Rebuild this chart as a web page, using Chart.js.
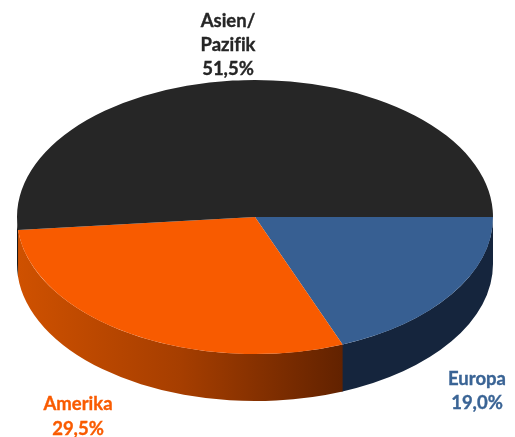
<!DOCTYPE html>
<html>
<head>
<meta charset="utf-8">
<style>
  html, body { margin: 0; padding: 0; background: #fff; }
  canvas { display: block; }
</style>
<script src="https://cdn.jsdelivr.net/npm/chart.js@4"></script>
</head>
<body>
<canvas id="myChart" width="515" height="437"></canvas>
<script>
const regions = ["Europa", "Amerika", "Asien/\nPazifik"];
const shares = [19.0, 29.5, 51.5];

const topColors = ["#375f92", "#f85b00", "#262626"];
const textColors = ["#3a6495", "#f95b00", "#262626"];

// side wall colours, left to right
const wallColors = [
  ["#15253d", "#15253d"],
  ["#cf5100", "#a63e00", "#622200"],
  ["#1a1a1a", "#1a1a1a"],
];

const RADIUS = 238;
const TILT = 137 / 238; // vertical squash of the disc
const DEPTH = 47;

// label anchor: centre x and first baseline
const labelSpots = [
  { x: 477, y: 385, lead: 24 },
  { x: 78, y: 410, lead: 24.5 },
  { x: 228, y: 27, lead: 24 },
];

const pie3d = {
  id: "pie3d",
  beforeDatasetsDraw(chart) {
    const ctx = chart.ctx;
    const arcs = chart.getDatasetMeta(0).data;

    // only the front half of the rim can be seen
    arcs.forEach((arc, i) => {
      const from = Math.max(arc.startAngle, 0);
      // small overlap so no light seam shows between two walls
      const to = Math.min(arc.endAngle + 0.005, Math.PI);
      if (to <= from) return;
      const rx = arc.outerRadius;
      const ry = rx * TILT;
      const x0 = arc.x + rx * Math.cos(to);
      const x1 = arc.x + rx * Math.cos(from);
      const grad = ctx.createLinearGradient(x0, 0, x1, 0);
      wallColors[i].forEach((c, k, all) => grad.addColorStop(k / (all.length - 1), c));
      ctx.beginPath();
      ctx.ellipse(arc.x, arc.y, rx, ry, 0, from, to);
      ctx.ellipse(arc.x, arc.y + DEPTH, rx, ry, 0, to, from, true);
      ctx.closePath();
      ctx.fillStyle = grad;
      ctx.fill();
    });

    const cy = arcs[0].y;
    ctx.save();
    ctx.translate(0, cy);
    ctx.scale(1, TILT);
    ctx.translate(0, -cy);
  },
  afterDatasetsDraw(chart) {
    const ctx = chart.ctx;
    ctx.restore();

    ctx.save();
    ctx.font = "bold 18.5px Lato";
    ctx.letterSpacing = "0.01px"; // keeps "fi" from turning into a ligature
    ctx.textAlign = "center";
    ctx.textBaseline = "alphabetic";
    ctx.lineWidth = 0.35;
    regions.forEach((name, i) => {
      const spot = labelSpots[i];
      const lines = name.split("\n");
      lines.push(shares[i].toFixed(1).replace(".", ",") + "%");
      ctx.fillStyle = textColors[i];
      ctx.strokeStyle = textColors[i];
      lines.forEach((line, k) => {
        ctx.fillText(line, spot.x, spot.y + k * spot.lead);
        ctx.strokeText(line, spot.x, spot.y + k * spot.lead);
      });
    });
    ctx.restore();
  },
};

const ctx = document.getElementById("myChart").getContext("2d");

const myChart = new Chart(ctx, {
  type: "pie",
  data: {
    labels: regions,
    datasets: [
      {
        data: shares,
        backgroundColor: topColors,
        borderWidth: 0,
        clip: false,
      },
    ],
  },
  options: {
    responsive: false,
    animation: false,
    rotation: 90,
    radius: RADIUS,
    layout: { padding: { left: 0, right: 5, top: 0, bottom: 3 } },
    plugins: {
      legend: { display: false },
      tooltip: { enabled: false },
    },
  },
  plugins: [pie3d],
});
</script>
</body>
</html>
